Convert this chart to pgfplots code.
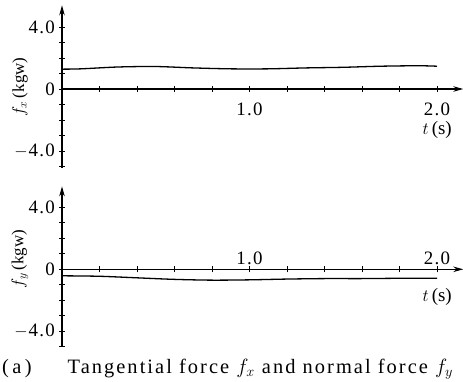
\documentclass[border=0pt]{standalone}
\usepackage{pgfplots}
\pgfplotsset{compat=1.18}
\usetikzlibrary{arrows.meta}
\usepackage{fontspec}
\setmainfont{Liberation Serif}
\newcommand{\tickfont}{\fontsize{19}{19}\selectfont}
\newcommand{\labfont}{\fontsize{17}{17}\selectfont}
\begin{document}
\begin{tikzpicture}
\path[use as bounding box] (0bp,0bp) rectangle (463bp,382bp);
\pgfplotsset{
 panel/.style={
  axis lines=middle, anchor=origin, x=187.5bp, y=15.5bp,
  xmin=0, xmax=2.14,
  xtick={0.2,0.4,0.6,0.8,1.0,1.2,1.4,1.6,1.8,2.0},
  xticklabels={,,,,1\kern1.2pt.\kern1.2pt0,,,,,2\kern1.2pt.\kern1.2pt0},
  ytick={-4,0,4}, yticklabels={$-$\kern1pt4\kern1.2pt.\kern1.2pt0,0,4\kern1.2pt.\kern1.2pt0},
  minor ytick={-5,-3,-2,-1,1,2,3},
  hide obscured y ticks=false, hide obscured x ticks=false,
  tick align=center, major tick length=6bp, minor tick length=5bp,
  axis line style={line width=1.2bp, -{Stealth[length=10bp,width=5.5bp]}},
  every tick/.style={black, line width=0.8bp},
  tick label style={font=\tickfont, inner sep=0pt},
  yticklabel style={anchor=east, xshift=-4bp},
  clip=false,
 }
}
\begin{axis}[panel, at={(62bp,293bp)}, ymin=-5.1, ymax=5.4,
  xticklabel style={anchor=north, yshift=-11bp},
  xlabel={$t$\,(s)}, ylabel={$f_x$\,(kgw)},
  every axis x label/.style={at={(rel axis cs:0.935,0.232)}, anchor=center, font=\tickfont},
  every axis y label/.style={at={(rel axis cs:-0.105,0.498)}, rotate=90, anchor=center, font=\labfont}]
\addplot[black, line width=1.3bp, smooth] coordinates {
(0,1.28) (0.1,1.3) (0.3,1.42) (0.5,1.45) (0.7,1.36) (0.9,1.3) (1.1,1.3) (1.3,1.36) (1.5,1.4) (1.7,1.47) (1.9,1.5) (2.0,1.47)};
\end{axis}
\begin{axis}[panel, at={(62bp,112.7bp)}, ymin=-5.0, ymax=5.35,
  xticklabel style={anchor=south, yshift=7bp},
  xlabel={$t$\,(s)}, ylabel={$f_y$\,(kgw)},
  every axis x label/.style={at={(rel axis cs:0.935,0.310)}, anchor=center, font=\tickfont},
  every axis y label/.style={at={(rel axis cs:-0.105,0.547)}, rotate=90, anchor=center, font=\labfont}]
\addplot[black, line width=1.3bp, smooth] coordinates {
(0,-0.42) (0.2,-0.45) (0.4,-0.55) (0.6,-0.65) (0.8,-0.7) (1.0,-0.68) (1.2,-0.63) (1.4,-0.6) (1.6,-0.6) (1.8,-0.58) (2.0,-0.58)};
\end{axis}
\node[font=\fontsize{20.5}{20.5}\selectfont\addfontfeature{LetterSpace=10}, anchor=base west, inner sep=0pt] at (2bp,9bp) {(\,a\,)\hspace{36bp}Tangential force $f_x$ and normal force $f_y$};
\end{tikzpicture}
\end{document}
